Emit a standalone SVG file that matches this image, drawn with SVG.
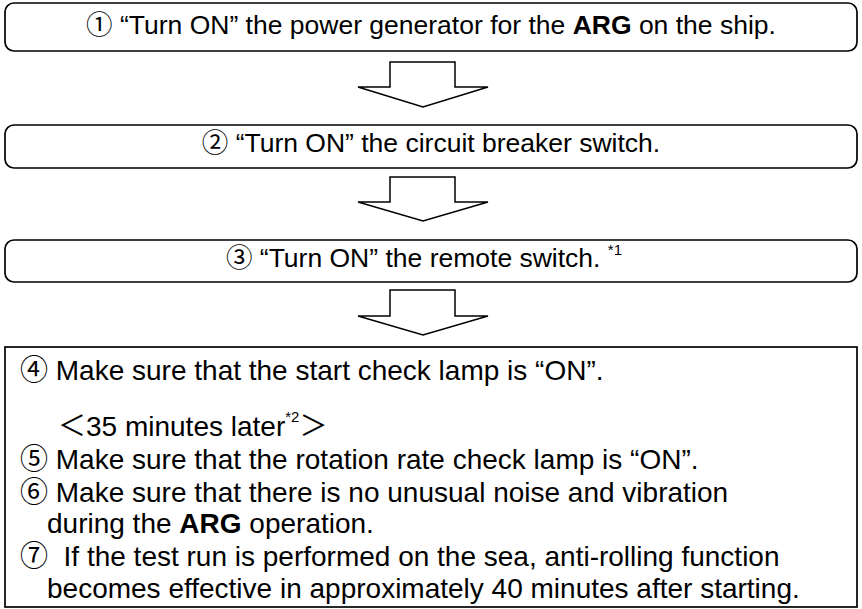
<svg xmlns="http://www.w3.org/2000/svg" width="862" height="609" viewBox="0 0 862 609">
<style>
.box{fill:#fff;stroke:#000;stroke-width:1.7}
.arr{fill:#fff;stroke:#000;stroke-width:1.5;stroke-linejoin:miter}
text{font-family:"Liberation Sans","Noto Sans CJK JP",sans-serif;fill:#000}
.h{font-size:26.5px;text-anchor:middle}
.b{font-size:28px}
.sup{font-size:15px}
.bold{font-weight:bold}
</style>
<rect width="862" height="609" fill="#fff"/>
<g id="step1">
<rect class="box" x="5" y="3" width="852" height="48" rx="9"/>
<text class="h" x="431" y="34">① “Turn ON” the power generator for the <tspan class="bold">ARG</tspan> on the ship.</text>
</g>
<g id="step2">
<rect class="box" x="5" y="125" width="852" height="43" rx="9"/>
<text class="h" x="431" y="152">② “Turn ON” the circuit breaker switch.</text>
</g>
<g id="step3">
<rect class="box" x="5" y="240" width="852" height="42" rx="9"/>
<text class="h" x="424" y="267">③ “Turn ON” the remote switch. <tspan class="sup" dy="-12">*1</tspan></text>
</g>
<g id="step4">
<rect class="box" x="5" y="347" width="852" height="260"/>
<text class="b" x="20" y="380">④ Make sure that the start check lamp is “ON”.</text>
<text class="b" x="58" y="436">＜35 minutes later<tspan class="sup" dy="-14">*2</tspan><tspan dy="14">＞</tspan></text>
<text class="b" x="20" y="469">⑤ Make sure that the rotation rate check lamp is “ON”.</text>
<text class="b" x="20" y="502">⑥ Make sure that there is no unusual noise and vibration</text>
<text class="b" x="47" y="533">during the <tspan class="bold">ARG</tspan> operation.</text>
<text class="b" x="20" y="566" xml:space="preserve">⑦  If the test run is performed on the sea, anti-rolling function</text>
<text class="b" x="47" y="598">becomes effective in approximately 40 minutes after starting.</text>
</g>
<g id="connectors">
<polygon class="arr" points="390,62 455,62 455,87 488,87 423,107 358,87 390,87"/>
<polygon class="arr" points="390,177 455,177 455,202 488,202 423,221 358,202 390,202"/>
<polygon class="arr" points="390,290 455,290 455,316 488,316 423,335 358,316 390,316"/>
</g>
</svg>
